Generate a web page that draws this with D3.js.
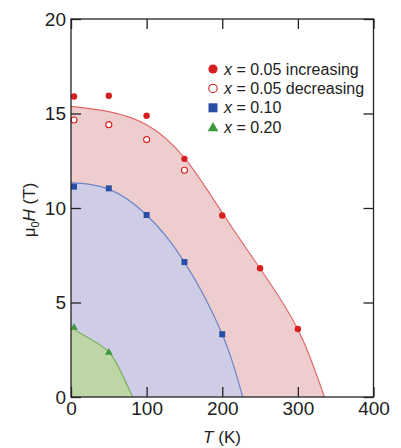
<!DOCTYPE html>
<html>
<head>
<meta charset="utf-8">
<script src="https://cdn.jsdelivr.net/npm/d3@7"></script>
<style>
  html, body { margin: 0; padding: 0; background: #fff; }
  svg { display: block; }
  text { font-family: "Liberation Sans", Arial, sans-serif; fill: #222; }
</style>
</head>
<body>
<svg id="chart" width="401" height="448"></svg>
<script>
// Measured critical fields, x = 0.05 sample (field increasing / decreasing)
const incT = [4, 50, 100, 150, 200, 250, 300];
const incH = [15.9, 15.94, 14.88, 12.6, 9.6, 6.81, 3.6];
const decT = [4, 50, 100, 150];
const decH = [14.66, 14.41, 13.62, 12.0];
// x = 0.10 sample
const x10T = [4, 50, 100, 150, 200];
const x10H = [11.13, 11.04, 9.63, 7.14, 3.32];
// x = 0.20 sample
const x20T = [4, 50];
const x20H = [3.67, 2.36];

// Phase boundary curves
const redCurveT = [0, 50, 100, 150, 200, 250, 300, 335];
const redCurveH = [15.38, 15.1, 14.4, 12.65, 9.75, 6.8, 3.58, 0];
const blueCurveT = [0, 50, 100, 150, 200, 227];
const blueCurveH = [11.34, 11.0, 9.63, 7.14, 3.32, 0];
const greenCurveT = [0, 25, 50, 67, 81.5];
const greenCurveH = [3.68, 3.08, 2.38, 1.25, 0];

// Axis ticks
const xTicks = [0, 100, 200, 300, 400];
const yTicks = [0, 5, 10, 15, 20];

const legendLabels = ["0.05 increasing", "0.05 decreasing", "0.10", "0.20"];

const svg = d3.select("#chart");
const x = d3.scaleLinear().domain([0, 400]).range([71, 373.5]);
const y = d3.scaleLinear().domain([0, 20]).range([397, 19]);

const zip = (a, b) => a.map((v, i) => [v, b[i]]);

const regions = [
  { pts: zip(redCurveT, redCurveH), fill: "#edcdcd", stroke: "#e06a6a" },
  { pts: zip(blueCurveT, blueCurveH), fill: "#cfcde6", stroke: "#6f86c8" },
  { pts: zip(greenCurveT, greenCurveH), fill: "#bed6a6", stroke: "#78b262" }
];

const area = d3.area().x(d => x(d[0])).y0(y(0)).y1(d => y(d[1])).curve(d3.curveNatural);
const line = d3.line().x(d => x(d[0])).y(d => y(d[1])).curve(d3.curveNatural);

regions.forEach(r => {
  svg.append("path").attr("d", area(r.pts)).attr("fill", r.fill);
});
regions.forEach(r => {
  svg.append("path").attr("d", line(r.pts)).attr("fill", "none")
    .attr("stroke", r.stroke).attr("stroke-width", 1.2);
});

const RED = "#d61f1f", BLUE = "#2a4fa6", GREEN = "#3f9a3f";

// markers
const g = svg.append("g");
g.selectAll("circle.inc").data(zip(incT, incH)).join("circle")
  .attr("cx", d => x(d[0])).attr("cy", d => y(d[1])).attr("r", 3.2).attr("fill", RED);
g.selectAll("circle.dec").data(zip(decT, decH)).join("circle")
  .attr("cx", d => x(d[0])).attr("cy", d => y(d[1])).attr("r", 3)
  .attr("fill", "#fff").attr("stroke", RED).attr("stroke-width", 1.1);
g.selectAll("rect.x10").data(zip(x10T, x10H)).join("rect")
  .attr("x", d => x(d[0]) - 3).attr("y", d => y(d[1]) - 3)
  .attr("width", 6).attr("height", 6).attr("fill", BLUE);
const tri = d3.symbol().type(d3.symbolTriangle).size(26);
g.selectAll("path.x20").data(zip(x20T, x20H)).join("path")
  .attr("d", tri).attr("transform", d => `translate(${x(d[0])},${y(d[1])})`).attr("fill", GREEN);

// frame
svg.append("rect").attr("x", x(0)).attr("y", y(20)).attr("width", x(400) - x(0)).attr("height", y(0) - y(20))
  .attr("fill", "none").attr("stroke", "#222").attr("stroke-width", 1.3);

const styleAxis = sel => {
  sel.select(".domain").remove();
  sel.selectAll(".tick line").attr("stroke", "#222").attr("stroke-width", 1.3);
  sel.selectAll(".tick text").attr("font-size", 19).attr("fill", "#222")
    .attr("font-family", "Liberation Sans, Arial, sans-serif");
};

svg.append("g").attr("transform", `translate(0,${y(0)})`)
  .call(d3.axisBottom(x).tickValues(xTicks).tickSizeInner(-10).tickSizeOuter(0).tickPadding(5))
  .call(styleAxis);
svg.append("g").attr("transform", `translate(0,${y(20)})`)
  .call(d3.axisTop(x).tickValues(xTicks).tickSizeInner(-10).tickSizeOuter(0).tickFormat(""))
  .call(styleAxis);
svg.append("g").attr("transform", `translate(${x(0)},0)`)
  .call(d3.axisLeft(y).tickValues(yTicks).tickSizeInner(-10).tickSizeOuter(0).tickPadding(5))
  .call(styleAxis);
svg.append("g").attr("transform", `translate(${x(400)},0)`)
  .call(d3.axisRight(y).tickValues(yTicks).tickSizeInner(-10).tickSizeOuter(0).tickFormat(""))
  .call(styleAxis);

// axis titles
const xt = svg.append("text").attr("x", 222).attr("y", 443).attr("text-anchor", "middle").attr("font-size", 17);
xt.append("tspan").attr("font-style", "italic").text("T");
xt.append("tspan").text(" (K)");

const yt = svg.append("text").attr("transform", "translate(35,210) rotate(-90)")
  .attr("text-anchor", "middle").attr("font-size", 17);
yt.append("tspan").text("μ");
yt.append("tspan").attr("font-size", 11).attr("dy", 4).text("0");
yt.append("tspan").attr("font-style", "italic").attr("dy", -4).text("H");
yt.append("tspan").text(" (T)");

// legend
const legY = [69, 88.4, 107.8, 127.2];
const lg = svg.append("g");
lg.append("circle").attr("cx", 213).attr("cy", legY[0]).attr("r", 4.6).attr("fill", RED);
lg.append("circle").attr("cx", 213).attr("cy", legY[1]).attr("r", 4.2)
  .attr("fill", "#fff").attr("stroke", RED).attr("stroke-width", 1.1);
lg.append("rect").attr("x", 208.5).attr("y", legY[2] - 4.5).attr("width", 9).attr("height", 9).attr("fill", BLUE);
lg.append("path").attr("d", d3.symbol().type(d3.symbolTriangle).size(50))
  .attr("transform", `translate(213,${legY[3] + 1})`).attr("fill", GREEN);
legendLabels.forEach((lab, i) => {
  const t = lg.append("text").attr("x", 224).attr("y", legY[i] + 5.6).attr("font-size", 16);
  t.append("tspan").attr("font-style", "italic").text("x");
  t.append("tspan").text(" = " + lab);
});
</script>
</body>
</html>
